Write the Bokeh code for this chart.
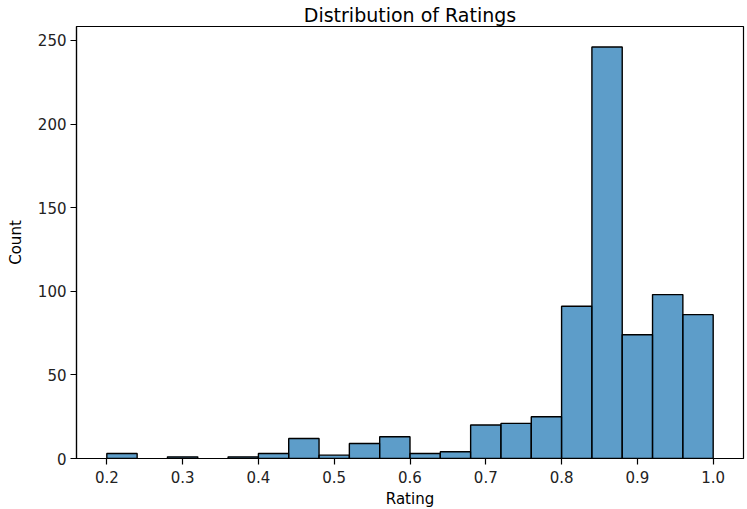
from bokeh.plotting import figure
from bokeh.models import FixedTicker, Range1d
from bokeh.embed import file_html
from bokeh.resources import INLINE

bin_left = [0.20, 0.24, 0.28, 0.32, 0.36, 0.40, 0.44, 0.48, 0.52, 0.56,
            0.60, 0.64, 0.68, 0.72, 0.76, 0.80, 0.84, 0.88, 0.92, 0.96]
bin_right = [0.24, 0.28, 0.32, 0.36, 0.40, 0.44, 0.48, 0.52, 0.56, 0.60,
             0.64, 0.68, 0.72, 0.76, 0.80, 0.84, 0.88, 0.92, 0.96, 1.00]
counts = [3, 0, 1, 0, 1, 3, 12, 2, 9, 13, 3, 4, 20, 21, 25, 91, 246, 74, 98, 86]

x_ticks = [0.2, 0.3, 0.4, 0.5, 0.6, 0.7, 0.8, 0.9, 1.0]
x_tick_labels = ["0.2", "0.3", "0.4", "0.5", "0.6", "0.7", "0.8", "0.9", "1.0"]
y_ticks = [0, 50, 100, 150, 200, 250]

FONT = "DejaVu Sans"

p = figure(width=747, height=509, output_backend="svg", toolbar_location=None,
           frame_width=667, frame_height=432,
           min_border_left=76, min_border_right=4, min_border_top=26, min_border_bottom=51,
           x_range=Range1d(0.16, 1.04), y_range=Range1d(0, 258.3),
           title="Distribution of Ratings")

bars = [(l, r, c) for l, r, c in zip(bin_left, bin_right, counts) if c > 0]
p.quad(left=[b[0] for b in bars], right=[b[1] for b in bars],
       bottom=0, top=[b[2] for b in bars],
       fill_color="#1f77b4", fill_alpha=0.72, line_color="black", line_width=1.4)

p.title.align = "center"
p.title.text_font = FONT
p.title.text_font_size = "19px"
p.title.text_font_style = "normal"
p.title.text_color = "black"
p.title.offset = 0
p.title.standoff = 1

p.xgrid.visible = False
p.ygrid.visible = False
p.outline_line_color = "black"
p.outline_line_width = 1.2
p.background_fill_color = "white"
p.border_fill_color = "white"

p.xaxis.ticker = FixedTicker(ticks=x_ticks)
p.xaxis.major_label_overrides = {t: l for t, l in zip(x_ticks, x_tick_labels)}
p.yaxis.ticker = FixedTicker(ticks=y_ticks)

for ax in (p.xaxis, p.yaxis):
    ax.axis_line_color = "black"
    ax.axis_line_width = 1.2
    ax.major_tick_line_color = "black"
    ax.major_tick_line_width = 1.2
    ax.major_tick_in = 0
    ax.major_tick_out = 6
    ax.minor_tick_line_color = None
    ax.major_label_text_font = FONT
    ax.major_label_text_font_size = "15px"
    ax.major_label_text_color = "#222222"
    ax.axis_label_text_font = FONT
    ax.axis_label_text_font_size = "15px"
    ax.axis_label_text_font_style = "normal"
    ax.axis_label_text_color = "black"

p.xaxis.axis_label = "Rating"
p.yaxis.axis_label = "Count"
p.xaxis.major_label_standoff = 6
p.yaxis.major_label_standoff = 4
p.xaxis.axis_label_standoff = 4
p.yaxis.axis_label_standoff = 10

open("out.html", "w").write(file_html(p, INLINE))
